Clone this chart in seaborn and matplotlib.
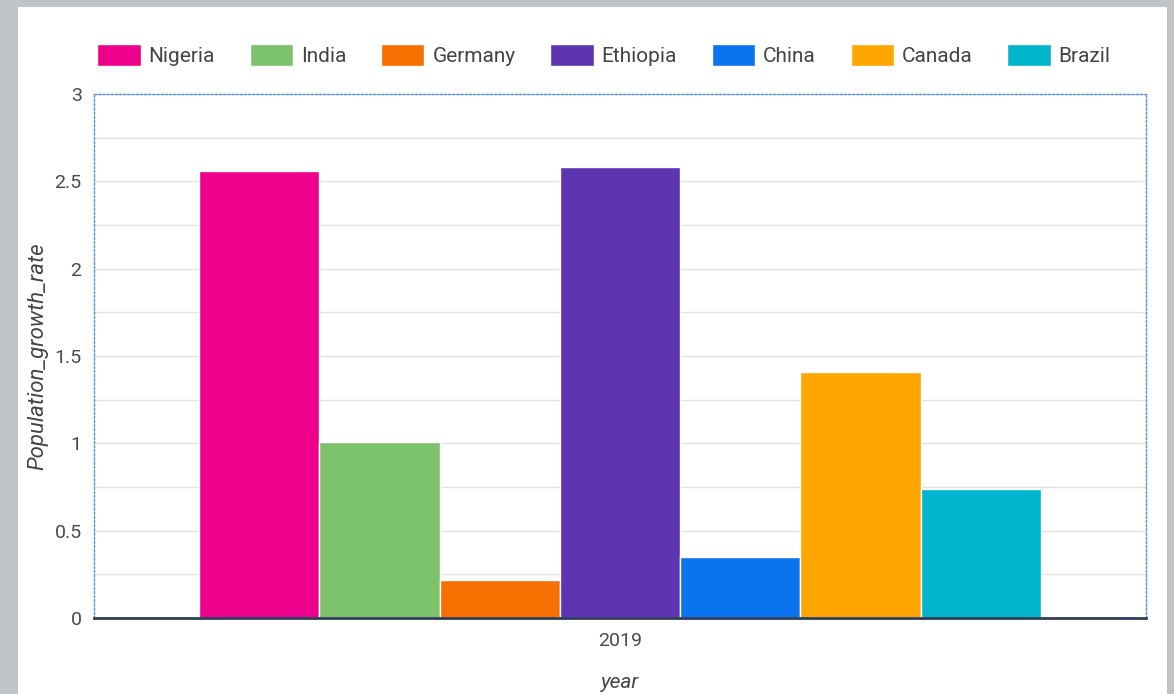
import matplotlib.pyplot as plt
import matplotlib.patches as mpatches
from matplotlib.ticker import MultipleLocator, FuncFormatter
import seaborn as sns
import pandas as pd

# values
countries = ['Nigeria', 'India', 'Germany', 'Ethiopia', 'China', 'Canada', 'Brazil']
growth_rate = [2.56, 1.01, 0.22, 2.58, 0.35, 1.41, 0.74]
years = ['2019'] * len(countries)
colors = ['#ec008c', '#7cc26a', '#f57000', '#5e35b1', '#0a73ee', '#ffa600', '#00b5cc']

df = pd.DataFrame({'year': years, 'country': countries, 'Population_growth_rate': growth_rate})

sns.set_style('white')
plt.rcParams['font.family'] = ['Roboto', 'DejaVu Sans']

fig = plt.figure(figsize=(11.74, 6.94), dpi=100)
fig.patch.set_facecolor('#c0c3c7')
# white card inside the gray frame
fig.add_artist(mpatches.Rectangle((18 / 1174, 0), (1167 - 18) / 1174, 1 - 7 / 694,
                                  transform=fig.transFigure, facecolor='white',
                                  edgecolor='none', zorder=0))

ax = fig.add_axes([94 / 1174, 1 - 618 / 694, (1146 - 94) / 1174, (618 - 94) / 694])
ax.set_facecolor('white')

sns.barplot(data=df, x='year', y='Population_growth_rate', hue='country',
            palette=colors, saturation=1, width=0.8, ax=ax, legend=False,
            edgecolor='white', linewidth=1)

ax.set_ylim(0, 3)
ax.set_xlim(-0.5, 0.5)
ax.yaxis.set_major_locator(MultipleLocator(0.5))
ax.yaxis.set_minor_locator(MultipleLocator(0.25))
ax.yaxis.set_major_formatter(FuncFormatter(lambda v, p: f'{v:g}'))
ax.grid(axis='y', which='both', color='#e2e2e2', linewidth=1)
ax.set_axisbelow(True)
ax.tick_params(axis='both', which='both', length=0, labelsize=14, colors='#4a4a4a')
ax.tick_params(axis='y', pad=9)
ax.tick_params(axis='x', pad=10)

for side in ['top', 'left', 'right']:
    ax.spines[side].set_visible(True)
    ax.spines[side].set_color('#5b8fd6')
    ax.spines[side].set_linestyle((0, (1.5, 1.5)))
    ax.spines[side].set_linewidth(1)
ax.spines['bottom'].set_color('#2f3e5c')
ax.spines['bottom'].set_linewidth(2)

ax.set_ylabel('Population_growth_rate', fontsize=16, style='italic', color='#444444', labelpad=4)
ax.set_xlabel('year', fontsize=15, style='italic', color='#444444', labelpad=17)

handles = [mpatches.Patch(facecolor=c, label=n) for c, n in zip(colors, countries)]
fig.legend(handles=handles, loc='center', bbox_to_anchor=(604 / 1174, 1 - 55 / 694),
           ncol=7, frameon=False, fontsize=15, handlelength=2.07, handleheight=1.3,
           handletextpad=0.38, columnspacing=1.68, labelcolor='#444444')

plt.savefig('out.png', dpi=100, facecolor=fig.get_facecolor())
